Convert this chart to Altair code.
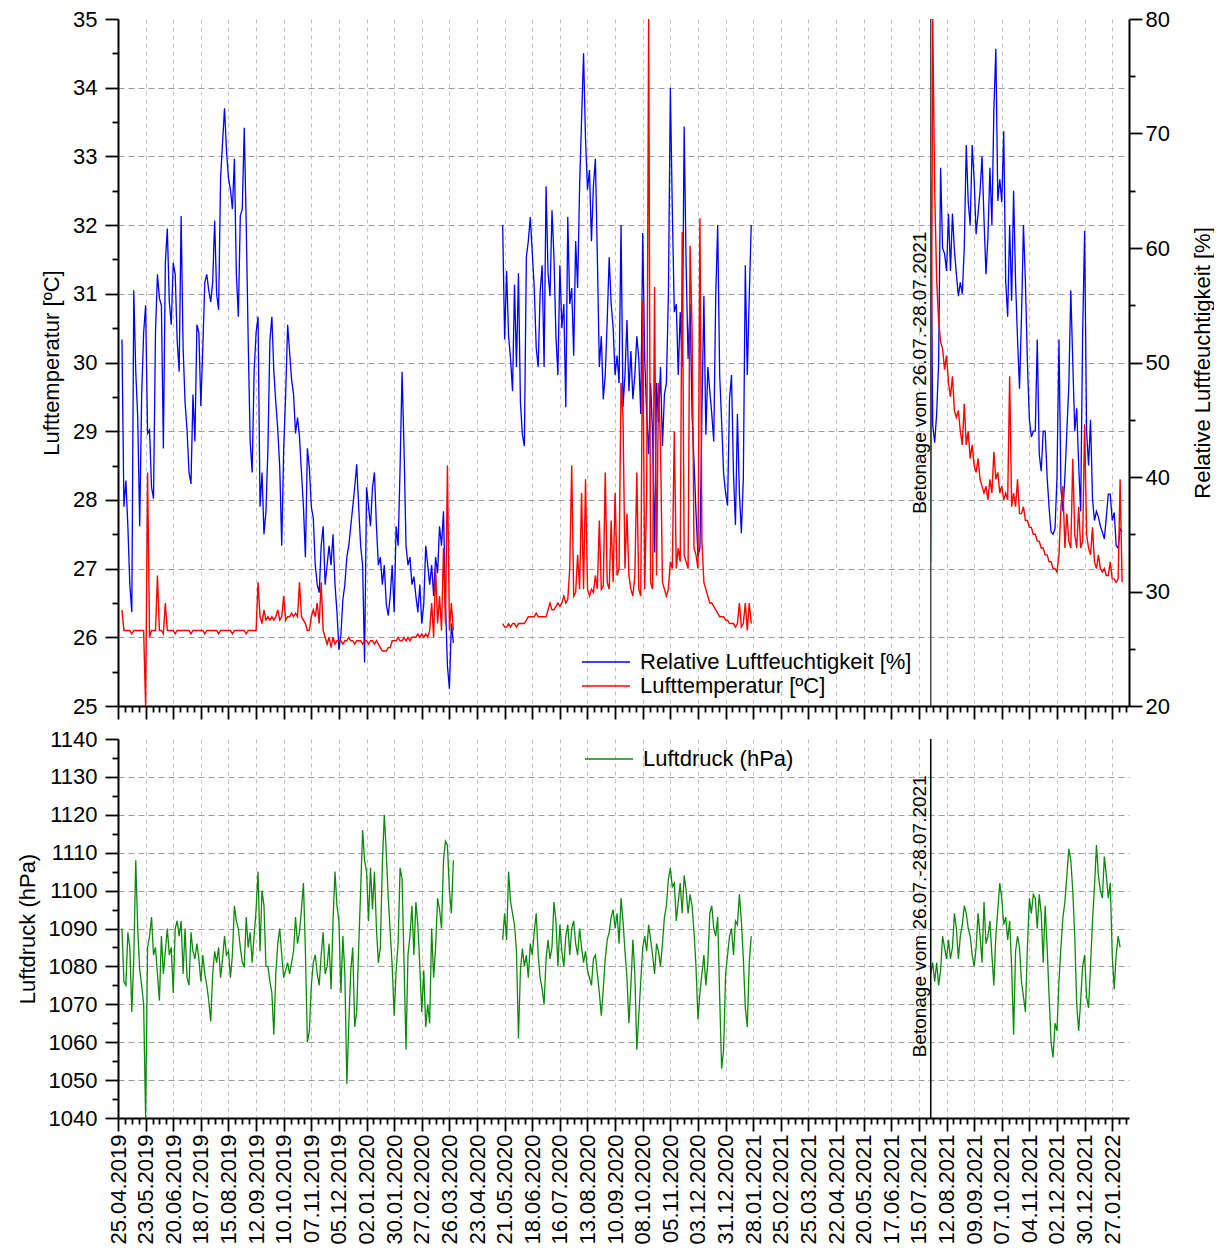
import altair as alt
import pandas as pd

STEP = "2D"
SEG_STARTS = ["2019-04-29", "2020-05-19", "2021-07-27"]

hum_1 = [52, 37.4, 39.7, 35.7, 30.6, 28.2, 56.3, 49.2, 45.2, 35.7, 47.2, 52.6, 55.0, 43.8, 44.1, 39.1, 38.1, 52.6, 57.7, 55.6,
         55.0, 42.5, 58.7, 61.7, 55.3, 53.3, 58.7, 57.7, 51.9, 49.2, 62.8, 51.3, 46.5, 44.1, 40.4, 39.4, 47.2, 43.1, 53.3, 52.6,
         46.2, 51.3, 57.0, 57.7, 56.3, 55.3, 57.0, 62.4, 56.0, 54.6, 66.1, 69.2, 72.2, 68.5, 66.1, 65.1, 63.4, 67.8, 57.7, 54.0,
         62.8, 63.4, 70.5, 62.1, 51.9, 43.1, 40.4, 49.2, 52.6, 54.0, 37.4, 40.4, 35.0, 37.0, 42.5, 51.9, 54.0, 49.2, 46.5, 44.1,
         40.8, 34.0, 42.5, 47.2, 53.3, 50.9, 48.5, 47.2, 43.8, 45.2, 43.5, 40.4, 37.4, 33.0, 42.5, 40.8, 37.4, 36.4, 32.3, 30.6,
         29.9, 34.0, 35.7, 30.6, 32.3, 34.0, 32.3, 35.0, 30.6, 28.2, 24.9, 26.2, 29.3, 30.6, 33.0, 34.0, 35.7, 37.4, 39.1, 41.1,
         37.4, 34.0, 32.3, 23.8, 39.1, 37.4, 35.7, 39.1, 40.4, 35.7, 32.3, 33.0, 30.6, 32.3, 28.9, 27.9, 29.6, 32.3, 28.2, 35.7,
         34.0, 40.8, 49.2, 42.5, 34.0, 32.3, 33.0, 30.6, 31.3, 29.6, 28.2, 30.6, 27.2, 28.9, 34.0, 32.3, 30.6, 32.3, 29.6, 33.0,
         31.6, 35.7, 34.0, 37.0, 28.9, 23.5, 21.5, 27.2, 25.5]
hum_2 = [62.0, 52, 58, 52.3, 50.3, 47.5, 56.8, 49.6, 57.8, 46.5, 43.7, 42.7, 59.2, 60.6, 62.7, 59.6, 56.5, 51.3, 49.6, 56.1,
         58.5, 49.6, 65.4, 57.8, 55.8, 63.3, 59.2, 52.3, 48.9, 58.5, 53.0, 55.1, 46.1, 62.7, 55.1, 56.5, 50.6, 60.6, 56.5, 65.4,
         71.2, 77.0, 69.5, 65.1, 66.8, 60.6, 65.4, 67.8, 59.2, 49.6, 52.3, 46.8, 48.9, 53.7, 59.2, 55.1, 53.0, 48.9, 50.6, 48.2,
         62.0, 46.1, 48.9, 53.7, 47.5, 51.0, 46.8, 48.9, 52.3, 50.3, 45.5, 61.3, 50.3, 45.5, 42.0, 48.2, 43.7, 33.4, 48.2, 44.8,
         49.6, 42.7, 47.2, 48.2, 55.8, 74.0, 63.3, 54.4, 55.1, 48.9, 54.4, 49.6, 70.6, 58.5, 50.3, 55.1, 45.5, 41.3, 36.9, 33.1,
         33.8, 45.5, 55.8, 43.7, 49.6, 47.5, 45.5, 43.1, 55.8, 62.0, 48.9, 44.8, 40.3, 38.6, 37.5, 46.8, 48.9, 40.3, 35.8, 45.5,
         38.6, 35.1, 39.9, 58.5, 48.9, 55.8, 62.0]
hum_3 = [66, 44.5, 43, 45.5, 50, 67, 60, 59.5, 58, 63, 58, 63, 59.8, 57.7, 55.8, 57, 56, 60, 69, 64,
         62, 69, 66, 61.2, 63, 65, 68, 62.5, 57.7, 61, 67, 62, 72, 77.4, 64.1, 66, 64, 70.2, 57, 54,
         62, 55.4, 65, 57, 52, 47.7, 54, 62, 57, 50, 45, 43.5, 44, 44, 52, 42, 40.5, 44, 44, 40,
         37.3, 35.2, 35, 35.5, 40, 52, 39, 37, 40, 44, 48, 56.3, 50, 44, 46, 41, 37, 52.5, 61.5, 44,
         41, 45, 38.1, 36.2, 37, 36.5, 35.7, 35.2, 34.6, 36.5, 38.5, 38.5, 36.2, 36.9, 34.0, 33.8, 35.5, 35.2]

temp_1 = [26.4, 26.1, 26.1, 26.1, 26.1, 26.05, 26.1, 26.1, 26.1, 26.1, 26.1, 26.1, 25.0, 28.4, 26.0, 26.1, 26.1, 26.1,
          26.9, 26.1, 26.1, 26.05, 26.5,
          26.1, 26.1, 26.1, 26.1, 26.05, 26.1, 26.1, 26.1, 26.1, 26.1, 26.1, 26.1, 26.05, 26.1, 26.1, 26.1, 26.1, 26.1,
          26.1, 26.05, 26.1, 26.1, 26.1, 26.1, 26.1, 26.1, 26.05, 26.1, 26.1, 26.1, 26.1, 26.1, 26.1, 26.05, 26.1, 26.1,
          26.1, 26.1, 26.1, 26.1, 26.05, 26.1, 26.1, 26.1, 26.1, 26.1,
          26.8, 26.3, 26.2, 26.4, 26.25, 26.3, 26.25, 26.3, 26.25, 26.3, 26.4, 26.25, 26.3, 26.6, 26.25, 26.3, 26.3, 26.35,
          26.3, 26.35, 26.3, 26.8, 26.3, 26.25, 26.2, 26.1, 26.1, 26.3, 26.4, 26.3, 26.5, 26.2, 26.8, 26.1, 26.0, 25.9, 26.0,
          25.85, 26.0, 25.9, 25.95, 25.95, 25.95, 25.9, 25.95, 25.95, 26.0, 25.95, 25.95, 25.9, 25.95, 25.95, 25.95, 25.9,
          25.95, 25.95, 25.9, 25.95, 25.95, 25.9, 25.95, 25.9, 25.85, 25.8, 25.8, 25.8, 25.85, 25.85, 25.95, 25.95, 25.95,
          26.0, 25.95, 25.95, 26.0, 25.95, 26.0, 25.95, 26.0, 26.0, 26.0, 26.05, 26.0, 26.05, 26.0, 26.05, 26.0, 26.1, 26.5,
          26.0, 27.0, 26.2, 26.6, 26.1, 27.3, 26.2, 28.5, 26.1, 26.5, 26.1]
temp_2 = [26.2, 26.15, 26.15, 26.2, 26.15, 26.2, 26.2, 26.15, 26.2, 26.2, 26.2, 26.2, 26.25, 26.3, 26.3, 26.3, 26.3, 26.35,
          26.3, 26.3, 26.3, 26.3, 26.3, 26.4, 26.5, 26.4, 26.4, 26.45, 26.5, 26.45, 26.5, 26.6, 26.5, 26.55, 27.0, 28.5, 26.6,
          26.65, 27.2, 26.7, 28.1, 26.7, 28.3, 26.7, 26.6, 26.7, 26.65, 26.9, 26.7, 27.7, 26.7, 26.75, 28.4, 26.8, 26.7, 27.7,
          26.8, 28.1, 26.9, 27.0, 29.7, 29.2, 27.0, 27.8, 26.9, 26.7, 26.6, 26.9, 28.4, 26.7, 26.6, 30.9, 26.7, 28.1, 35.0,
          26.8, 26.7, 31.1, 26.9, 29.7, 28.8, 26.8, 26.7, 26.6, 26.7, 27.1, 27.0, 29.0, 27.0, 27.3, 27.1, 31.9, 27.2, 27.1,
          27.0, 31.7, 30.5, 27.3, 27.2, 27.0, 32.1, 27.4, 26.8, 26.7, 26.6, 26.5, 26.5, 26.45, 26.4, 26.35, 26.3, 26.3, 26.3,
          26.25, 26.25, 26.2, 26.2, 26.2, 26.15, 26.2, 26.5, 26.15, 26.2, 26.5, 26.1, 26.5, 26.2]
temp_3 = [27.1, 35.0, 32.5, 31.2, 30.6, 30.3, 30.2, 29.9, 30.1, 29.7, 29.5, 29.8, 29.3, 29.2, 29.3, 29.0, 28.8, 29.4, 28.8,
          29.0, 28.6, 28.8, 28.5, 28.4, 28.6, 28.3, 28.2, 28.1, 28.2, 28.0, 28.3, 28.1, 28.7, 28.3, 28.4, 28.1, 28.2, 28.0,
          28.1, 28.0, 29.8, 27.9, 28.1, 27.9, 28.3, 27.8, 27.8, 27.9, 27.7, 27.7, 27.6, 27.6, 27.5, 27.5, 27.4, 27.4, 27.3,
          27.3, 27.2, 27.2, 27.1, 27.1, 27.0, 27.0, 26.95, 27.2, 27.9, 28.2, 27.3, 27.8, 27.4, 27.3, 28.6, 27.5, 27.3, 27.9,
          27.3, 27.4, 29.1, 27.5, 27.3, 27.2, 27.6, 27.1, 27.0, 27.2, 27.0, 26.95, 27.0, 26.9, 26.9, 27.1, 26.85, 26.85,
          26.8, 26.85, 28.3, 26.8]

press_1 = [1090, 1076, 1075, 1089, 1085, 1068, 1082, 1108, 1090, 1079, 1075, 1070, 1040, 1085, 1088, 1093, 1083, 1085,
           1078, 1071, 1088, 1078, 1084, 1090, 1083, 1085, 1073, 1090, 1092, 1088, 1092, 1078, 1090, 1077, 1075, 1089,
           1084, 1082, 1086, 1082, 1076, 1083, 1078, 1075, 1071, 1065.5, 1078, 1084, 1081, 1085, 1077, 1082, 1088, 1083,
           1084, 1077, 1083, 1096, 1092, 1090, 1085, 1081, 1080, 1093, 1085, 1089, 1081, 1088, 1095, 1105, 1084, 1100,
           1096, 1080, 1080, 1076, 1073, 1062, 1078, 1086, 1090, 1083, 1077, 1079, 1081, 1078, 1081, 1084, 1093, 1086,
           1089, 1095, 1102, 1084, 1060, 1063, 1075, 1081, 1083, 1078, 1075, 1083, 1089, 1078, 1080, 1086, 1074, 1092,
           1105, 1096, 1092, 1073, 1088, 1078, 1049, 1065, 1079, 1085, 1064, 1068, 1085, 1100, 1116, 1108, 1105, 1092,
           1106, 1095, 1105, 1090, 1081, 1085, 1107, 1120, 1110, 1098, 1089, 1080, 1067, 1079, 1086, 1106, 1103, 1081,
           1058, 1083, 1088, 1096, 1083, 1097, 1091, 1080, 1068, 1079, 1064, 1070, 1065, 1090, 1077, 1085, 1098, 1095,
           1090, 1108, 1113, 1112, 1100, 1094, 1108]
press_2 = [1087, 1094, 1087, 1105, 1097, 1094, 1091, 1084, 1061, 1079, 1084.7, 1080, 1083, 1077, 1086, 1083, 1089, 1094,
           1083, 1077, 1074, 1070, 1082, 1087, 1082, 1085, 1097, 1092, 1080, 1091, 1084, 1080, 1088, 1091, 1083, 1090,
           1092, 1086, 1083, 1090, 1085, 1081, 1084, 1079, 1077, 1075, 1082, 1083, 1078, 1073, 1067, 1074, 1082, 1087,
           1089, 1093, 1095, 1090, 1094, 1086, 1098, 1092, 1084, 1077, 1065, 1075, 1087, 1078, 1058, 1067, 1076, 1085,
           1088, 1084, 1091, 1087, 1083, 1078, 1086, 1084, 1080, 1086, 1093, 1096, 1103, 1106, 1101, 1102, 1092, 1097,
           1102, 1094, 1104, 1100, 1094, 1099, 1096, 1089, 1080, 1066, 1073, 1078, 1083, 1075, 1081, 1094, 1096, 1090,
           1088, 1093, 1072, 1053, 1058, 1078, 1083, 1088, 1090, 1083, 1092, 1091, 1099, 1092, 1082, 1069, 1064, 1081, 1088]
press_3 = [1078, 1081, 1076, 1081, 1075, 1079, 1088, 1085, 1082, 1087, 1082, 1085, 1094, 1090, 1082, 1088, 1091, 1096,
           1094, 1090, 1088, 1083, 1080, 1085, 1094, 1088, 1081, 1097, 1086, 1088, 1092, 1083, 1075, 1088, 1095, 1102,
           1098, 1091, 1093, 1087, 1092, 1080, 1062, 1084, 1088, 1085, 1076, 1072, 1068, 1085, 1098, 1094, 1099, 1098,
           1090, 1099, 1094, 1081, 1096, 1085, 1072, 1060, 1056, 1065, 1063, 1076, 1085, 1093, 1097, 1104, 1111, 1108,
           1100, 1088, 1070, 1063, 1071, 1080, 1083, 1072, 1069, 1080, 1092, 1101, 1112, 1104, 1100, 1098, 1109, 1104,
           1098, 1102, 1083, 1074, 1083, 1088, 1085]

HUM_NAME = "Relative Luftfeuchtigkeit [%]"
TEMP_NAME = "Lufttemperatur [ºC]"
PRESS_NAME = "Luftdruck (hPa)"
X_START, X_END, LAST_TICK = "2019-04-25", "2022-02-13", "2022-02-10"
EVENT_DATE = "2021-07-27"
ANNOT = "Betonage vom 26.07.-28.07.2021"

TEMP_TICKS = [25, 25.5, 26, 26.5, 27, 27.5, 28, 28.5, 29, 29.5, 30, 30.5, 31, 31.5, 32, 32.5, 33, 33.5, 34, 34.5, 35]
TEMP_MAJOR = [25, 26, 27, 28, 29, 30, 31, 32, 33, 34, 35]
HUM_TICKS = [20, 25, 30, 35, 40, 45, 50, 55, 60, 65, 70, 75, 80]
HUM_MAJOR = [20, 30, 40, 50, 60, 70, 80]
PRESS_TICKS = [1040, 1045, 1050, 1055, 1060, 1065, 1070, 1075, 1080, 1085, 1090, 1095, 1100, 1105, 1110, 1115,
               1120, 1125, 1130, 1135, 1140]
PRESS_MAJOR = [1040, 1050, 1060, 1070, 1080, 1090, 1100, 1110, 1120, 1130, 1140]


def series_frame(segments, name):
    parts = []
    for i, (start, vals) in enumerate(zip(SEG_STARTS, segments)):
        parts.append(pd.DataFrame({
            "date": pd.date_range(start, periods=len(vals), freq=STEP),
            "value": vals, "seg": i, "series": name}))
    return pd.concat(parts, ignore_index=True)


hum_df = series_frame([hum_1, hum_2, hum_3], HUM_NAME)
temp_df = series_frame([temp_1, temp_2, temp_3], TEMP_NAME)
press_df = series_frame([press_1, press_2, press_3], PRESS_NAME)
event_df = pd.DataFrame({"date": pd.to_datetime([EVENT_DATE]), "label": [ANNOT]})


def dt(ts):
    return alt.DateTime(year=ts.year, month=ts.month, date=ts.day)


week_ticks = [dt(d) for d in pd.date_range(X_START, LAST_TICK, freq="7D")]
x_scale = alt.Scale(domain=[dt(pd.Timestamp(X_START)), dt(pd.Timestamp(X_END))], nice=False)
MAJOR_X = "round((datum.value - datetime(2019, 3, 25)) / 86400000) % 28 === 0"
MAJOR_LEN, MINOR_LEN = 13, 6


def x_enc(show_labels):
    return alt.X(
        "date:T", scale=x_scale,
        axis=alt.Axis(
            values=week_ticks, tickCount=1000, title=None, labels=show_labels,
            labelExpr=f"{MAJOR_X} ? timeFormat(datum.value, '%d.%m.%Y') : ''",
            labelAngle=270, labelFontSize=22, labelOverlap=False, labelFlush=False, labelPadding=3,
            tickSize={"condition": {"test": MAJOR_X, "value": MAJOR_LEN}, "value": MINOR_LEN},
            grid=True, gridOpacity={"condition": {"test": MAJOR_X, "value": 1}, "value": 0},
            gridDash=[4, 4], gridColor="#c2c2c2", gridWidth=1))


def y_axis(title, ticks, majors, orient, grid, label_pad=8, **kw):
    major = f"indexof({majors}, datum.value) >= 0"
    inner = f"{major} && datum.value > {ticks[0]} && datum.value < {ticks[-1]}"
    return alt.Axis(
        title=title, orient=orient, values=ticks, tickCount=1000,
        labelExpr=f"{major} ? format(datum.value, 'd') : ''",
        labelOverlap=False, labelFlush=False, labelFontSize=22, labelPadding=label_pad,
        tickSize={"condition": {"test": major, "value": MAJOR_LEN}, "value": MINOR_LEN},
        grid=grid,
        gridOpacity={"condition": {"test": inner, "value": 1}, "value": 0},
        gridDash=[6, 4], gridColor="#9c9c9c", gridWidth=1, **kw)


temp_axis = y_axis(TEMP_NAME, TEMP_TICKS, TEMP_MAJOR, "left", True, titlePadding=9)
temp_scale = alt.Scale(domain=[25, 35], nice=False, zero=False)
hum_axis = y_axis(HUM_NAME, HUM_TICKS, HUM_MAJOR, "right", False, label_pad=3, titleAngle=270,
                  titleBaseline="top", titlePadding=23)
hum_scale = alt.Scale(domain=[20, 80], nice=False, zero=False)
press_axis = y_axis(PRESS_NAME, PRESS_TICKS, PRESS_MAJOR, "left", True, titlePadding=9)
press_scale = alt.Scale(domain=[1040, 1140], nice=False, zero=False)

# a horizontal stroke 48px long, drawn left of a 24px symbol column
legend_common = dict(orient="none", title=None, symbolType="M-3,0H1", symbolStrokeWidth=1.6,
                     symbolSize=576, labelFontSize=22, labelColor="black", labelOffset=9,
                     rowPadding=0, labelLimit=0, symbolFillColor="transparent")
top_color = alt.Color("series:N",
                      scale=alt.Scale(domain=[HUM_NAME, TEMP_NAME], range=["#0000ff", "#ff0000"]),
                      legend=alt.Legend(legendX=487, legendY=630, **legend_common))
bot_color = alt.Color("series:N",
                      scale=alt.Scale(domain=[PRESS_NAME], range=["#0c8a0c"]),
                      legend=alt.Legend(legendX=490, legendY=7, **legend_common))

# ---------------- top panel ----------------
hum_line = alt.Chart(hum_df).mark_line(strokeWidth=1.3).encode(
    x=x_enc(False), y=alt.Y("value:Q", scale=hum_scale, axis=hum_axis),
    detail="seg:N", color=top_color)
temp_line = alt.Chart(temp_df).mark_line(strokeWidth=1.4).encode(
    x=x_enc(False), y=alt.Y("value:Q", scale=temp_scale, axis=temp_axis),
    detail="seg:N", color=top_color)
rule_top = alt.Chart(event_df).mark_rule(color="#4a4a4a", strokeWidth=1.5).encode(x=x_enc(False))
text_top = alt.Chart(event_df).mark_text(angle=270, align="left", baseline="alphabetic", dy=-5,
                                         fontSize=19, color="black").encode(
    x=x_enc(False), y=alt.datum(27.8), text="label:N")
temp_layer = alt.layer(temp_line, rule_top, text_top)
top = alt.layer(hum_line, temp_layer).resolve_scale(y="independent").properties(width=1011, height=687)

# ---------------- bottom panel ----------------
press_line = alt.Chart(press_df).mark_line(strokeWidth=1.3).encode(
    x=x_enc(True), y=alt.Y("value:Q", scale=press_scale, axis=press_axis),
    detail="seg:N", color=bot_color)
rule_bot = alt.Chart(event_df).mark_rule(color="black", strokeWidth=1.5).encode(x=x_enc(True))
text_bot = alt.Chart(event_df).mark_text(angle=270, align="left", baseline="alphabetic", dy=-5,
                                         fontSize=19, color="black").encode(
    x=x_enc(True), y=alt.datum(1056), text="label:N")
bottom = alt.layer(press_line, rule_bot, text_bot).properties(width=1011, height=379)

chart = (
    alt.vconcat(top, bottom, spacing=8)
    .resolve_scale(color="independent")
    .properties(padding={"left": 8, "top": 0, "right": 0, "bottom": 4}, background="white")
    .configure(font="Liberation Sans")
    .configure_view(stroke=None)
    .configure_axis(domainColor="black", domainWidth=2, tickColor="black", tickWidth=1.8,
                    labelColor="black", titleColor="black", titleFontSize=22,
                    titleFontWeight="normal")
)

chart.save("out.html", embed_options={"renderer": "svg", "actions": False})
